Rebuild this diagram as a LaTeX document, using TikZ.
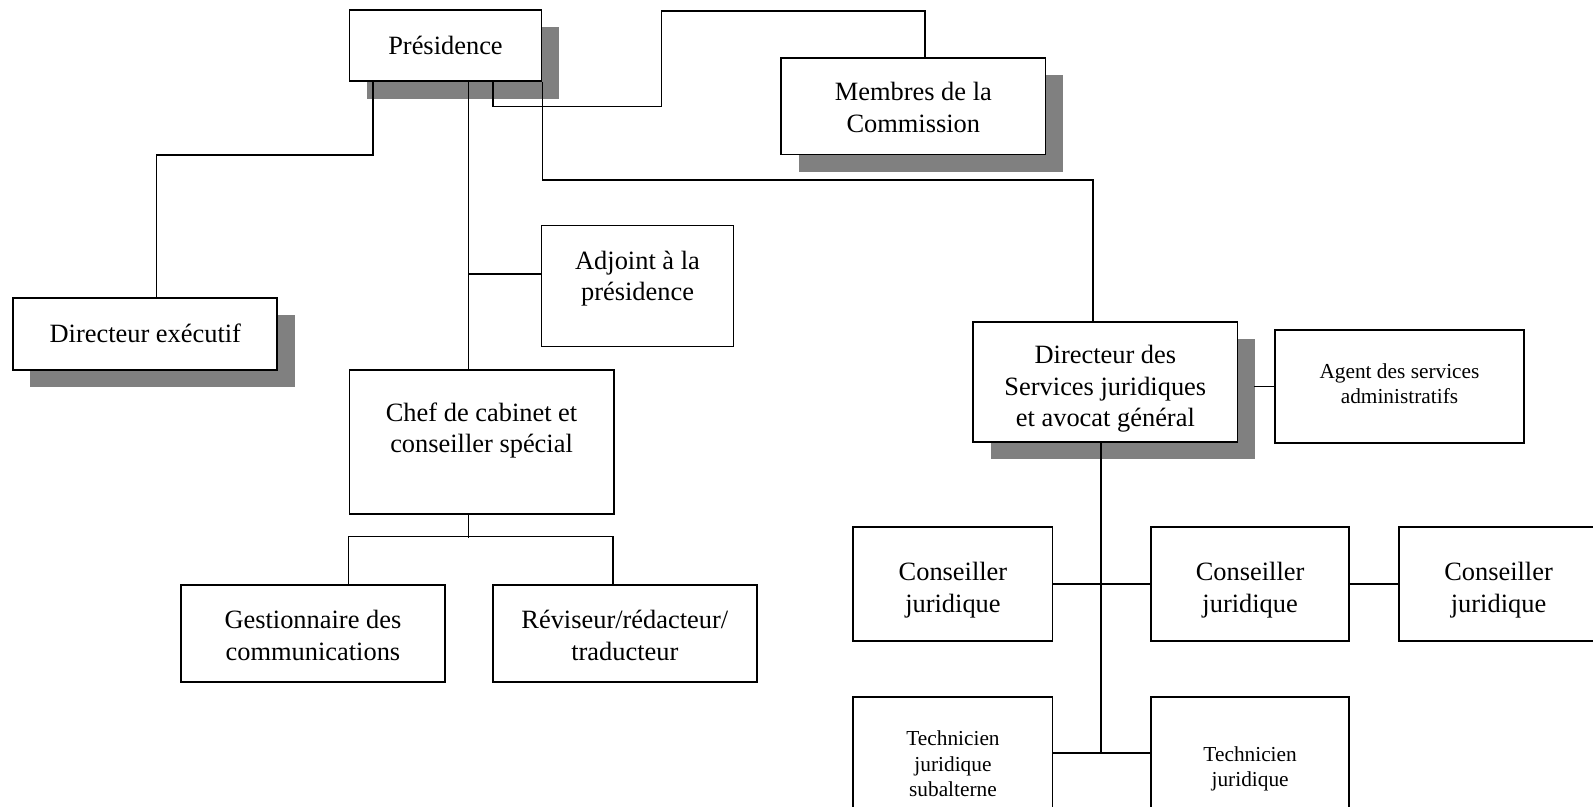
\documentclass[tikz,border=0pt]{standalone}
\usepackage{fontspec}
\setmainfont{Liberation Serif}
\usetikzlibrary{calc,shadows}
\begin{document}
\begin{tikzpicture}[x=1pt,y=-1pt,
  box/.style={draw=black,fill=white,line width=1.8pt,rectangle,inner sep=0pt,align=center,
    font=\fontsize{26}{31}\selectfont},
  smallbox/.style={box,font=\fontsize{21}{25}\selectfont},
  lbl/.style={align=center,inner sep=0pt,font=\fontsize{26}{31}\selectfont},
  slbl/.style={lbl,font=\fontsize{21}{25}\selectfont},
  shad/.style={drop shadow={shadow xshift=17pt,shadow yshift=-17pt,fill=black!50,opacity=1}},
  conn/.style={draw=black,line width=1.8pt}]
\useasboundingbox (0,0) rectangle (1568,794);
\clip (0,0) rectangle (1568,794);

\node[box,shad,minimum width=189pt,minimum height=70pt] (pres) at (438.5,45) {Présidence};
\node[box,shad,minimum width=260pt,minimum height=95pt,
  label={[lbl,yshift=-1.5pt]center:Membres de la\\Commission}] (memb) at (899,104.5) {};
\node[box,shad,minimum width=260pt,minimum height=71pt] (dexe) at (143,328.5) {Directeur exécutif};
\node[box,minimum width=189pt,minimum height=119pt,
  label={[lbl,yshift=7pt]center:Adjoint à la\\présidence}] (adj) at (627.5,281.5) {};
\node[box,minimum width=260pt,minimum height=142pt,
  label={[lbl,yshift=11pt]center:Chef de cabinet et\\conseiller spécial}] (chef) at (474,435) {};
\node[box,minimum width=260pt,minimum height=95pt,
  label={[lbl,yshift=-2pt]center:Gestionnaire des\\communications}] (gest) at (308,623.5) {};
\node[box,minimum width=260pt,minimum height=95pt,
  label={[lbl,yshift=-2pt]center:Réviseur/rédacteur/\\traducteur}] (rev) at (615,623.5) {};
\node[box,shad,minimum width=260pt,minimum height=118pt,
  label={[lbl,yshift=-7pt]center:Directeur des\\Services juridiques\\et avocat général}] (dsj) at (1088,376) {};
\node[smallbox,minimum width=245pt,minimum height=111pt,
  label={[slbl,yshift=3pt]center:Agent des services\\administratifs}] (agent) at (1377.5,380.5) {};
\node[box,minimum width=196pt,minimum height=112pt,
  label={[lbl,yshift=-6pt]center:Conseiller\\juridique}] (cj1) at (938,575) {};
\node[box,minimum width=195pt,minimum height=112pt,
  label={[lbl,yshift=-6pt]center:Conseiller\\juridique}] (cj2) at (1230.5,575) {};
\node[box,minimum width=196pt,minimum height=112pt,
  label={[lbl,yshift=-6pt]center:Conseiller\\juridique}] (cj3) at (1475,575) {};
\node[smallbox,minimum width=196pt,minimum height=132pt] (tjs) at (938,752) {Technicien\\juridique\\subalterne};
\node[smallbox,minimum width=195pt,minimum height=132pt,
  label={[slbl,yshift=-5pt]center:Technicien\\juridique}] (tj) at (1230.5,752) {};

% connectors
\draw[conn] ($(pres.south west)+(24,0)$) -- ++(0,72) -| ($(dexe.north west)+(142,0)$);
\draw[conn] ($(pres.south west)+(118,0)$) -- ($(chef.north west)+(118,0)$);
\draw[conn] ($(adj.west)+(0,-11.5)$) -- ++(-71,0);
\draw[conn] ($(pres.south west)+(142,0)$) -- ++(0,24) -- ++(166,0) -- ++(0,-94) -| ($(memb.north west)+(142,0)$);
\draw[conn] (pres.south east) -- ++(0,96) -| ($(dsj.north west)+(119,0)$);
\draw[conn] ($(chef.south west)+(118,0)$) -- ++(0,23);
\draw[conn] ($(gest.north west)+(166,0)$) -- ++(0,-47) -- ++(260,0) -- ($(rev.north west)+(119,0)$);
\draw[conn] (agent.west) -- ++(-20,0);
\draw[conn] ($(dsj.south west)+(127,0)$) -- ++(0,306);
\draw[conn] (cj1.east) -- (cj2.west);
\draw[conn] (cj2.east) -- (cj3.west);
\draw[conn] ($(tjs.east)+(0,-11)$) -- ($(tj.west)+(0,-11)$);
\end{tikzpicture}
\end{document}
